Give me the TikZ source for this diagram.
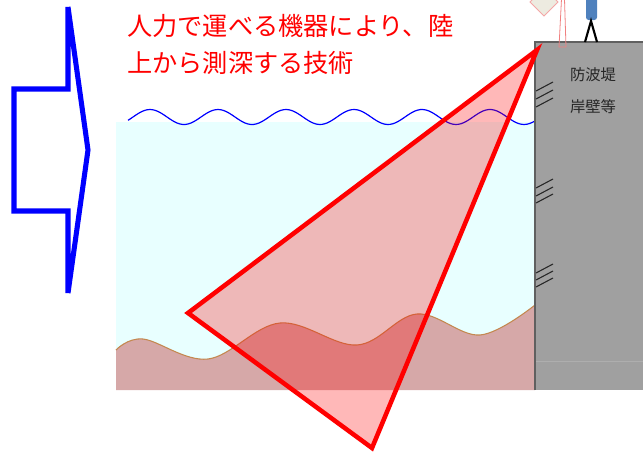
\documentclass[tikz,border=0pt]{standalone}
\usepackage{fontspec}
\newfontfamily\jpfont{Noto Sans CJK JP}
\usetikzlibrary{positioning}
\definecolor{seablue}{RGB}{232,255,255}
\definecolor{bedrose}{RGB}{214,168,168}
\definecolor{bedline}{RGB}{196,136,80}
\definecolor{wallgray}{RGB}{160,160,160}
\definecolor{walledge}{RGB}{96,96,96}
\definecolor{manblue}{RGB}{79,129,189}
\definecolor{boxbeige}{RGB}{237,235,224}
\definecolor{polepink}{RGB}{240,128,128}

\begin{document}
\begin{tikzpicture}[x=0.75pt, y=-0.75pt,
  head/.style={text=red, font=\jpfont\fontsize{18.9}{27.5}\selectfont, inner sep=0pt},
  wtxt/.style={text=black!85, font=\jpfont\fontsize{11.5}{14}\selectfont, inner sep=0pt},
  beam/.style={draw=red, line width=3.4pt, fill=red, fill opacity=0.28},
  hatch/.style={line width=0.8pt, black!85},
  bigarrow/.style={draw=blue, line width=3.8pt}
]
  \useasboundingbox (0,0) rectangle (643,457);

  % sea and surface
  \fill[seablue] (116,122) rectangle (535,390);
  \draw[blue, line width=0.9pt] plot[domain=128:535, samples=150, smooth]
    (\x, {117-7.5*cos(5.2941*(\x-150))});

  % sea bed
  \fill[bedrose] plot[smooth, tension=0.6] coordinates {(116,350) (143,339) (208,359)
    (280,323) (357,345) (417,314) (480,335) (535,305)} -- (535,390) -- (116,390) -- cycle;
  \draw[bedline, line width=0.8pt] plot[smooth, tension=0.6] coordinates {(116,350)
    (143,339) (208,359) (280,323) (357,345) (417,314) (480,335) (535,305)};

  % quay wall
  \fill[wallgray] (535,42) rectangle (643,390);
  \draw[wallgray!85!white, line width=0.5pt] (536,361) -- (643,361);
  \draw[walledge, line width=1.5pt] (535,390) -- (535,42) -- (643,42);
  \foreach \y in {91,99,107,188,196,203,273,280,287}
    \draw[hatch] (536,\y) -- ++(17,-9);
  \node[wtxt] (w1) at (593,75) {防波堤};
  \node[wtxt] (w2) at (593,107) {岸壁等};

  % sounding beam
  \coordinate (src) at (537,50);
  \coordinate (lft) at (188,313);
  \coordinate (bot) at (372,448);
  \draw[beam] (src) -- (lft) -- (bot) -- cycle;

  % operator and instrument on the wall
  \filldraw[fill=boxbeige, draw=polepink!70!white, line width=0.6pt]
    (530,2) -- (544,16) -- (558,2) -- (544,-12) -- cycle;
  \draw[polepink, line width=0.6pt] (561.5,-1) -- (564.5,-1) -- (566,47) -- (559,47) -- cycle;
  \fill[manblue, rounded corners=2pt] (586,-5) rectangle (597,20);
  \draw[black, line width=1.6pt] (585,42) -- (591,21) -- (597,42);

  \node[head, anchor=base west] (h1) at (127,35) {人力で運べる機器により、陸};
  \node[head, anchor=base west] (h2) at (127,72) {上から測深する技術};

  \draw[bigarrow] (68,7) -- (88,150) -- (68,293) -- (68,211) -- (14,211)
    -- (14,89) -- (68,89) -- cycle;
\end{tikzpicture}
\end{document}
